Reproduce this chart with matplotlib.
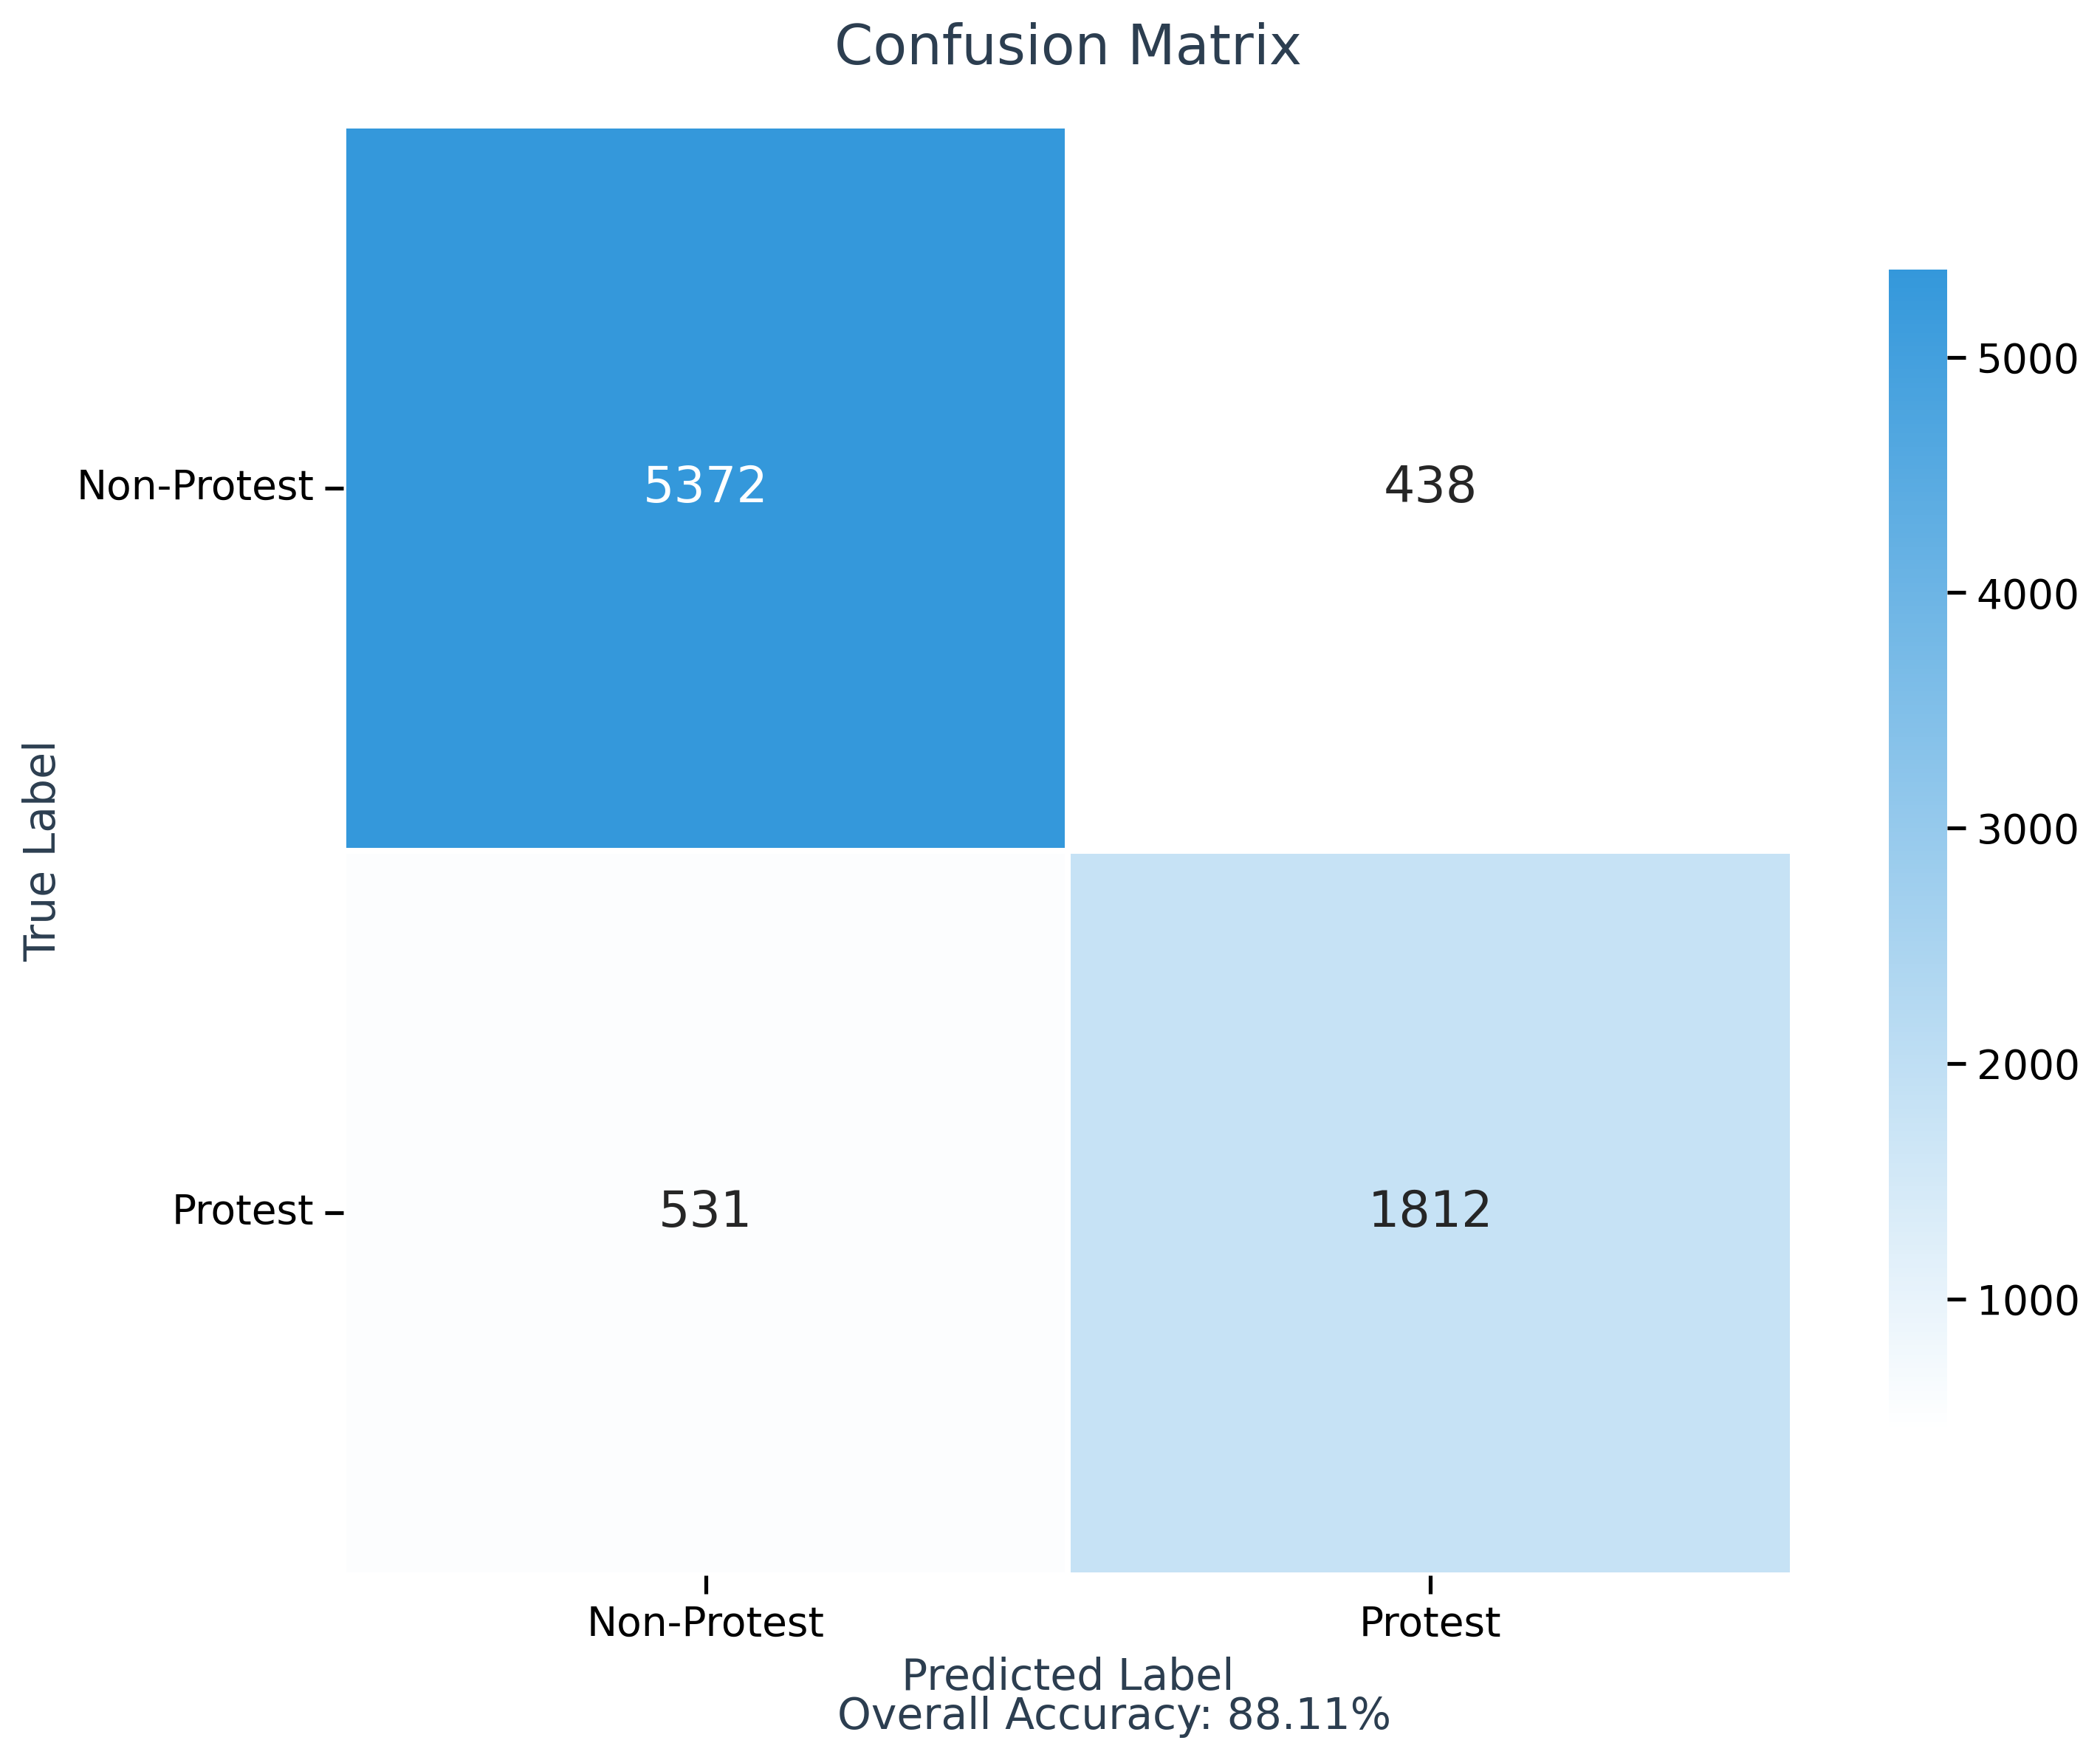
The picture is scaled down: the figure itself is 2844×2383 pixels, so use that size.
import numpy as np
import matplotlib
matplotlib.use("Agg")
import matplotlib.pyplot as plt
import seaborn as sns
from matplotlib.colors import LinearSegmentedColormap

# ---- data ----
class_labels = ["Non-Protest", "Protest"]
row_non_protest = [5372, 438]
row_protest = [531, 1812]
cbar_ticks = [1000, 2000, 3000, 4000, 5000]

cm = np.array([row_non_protest, row_protest])
accuracy = np.trace(cm) / cm.sum() * 100

plt.rcParams['font.family'] = ['DejaVu Sans']
W, H, DPI = 2845, 2383, 300
fig = plt.figure(figsize=(W / DPI, H / DPI), dpi=DPI)

ax = fig.add_axes([465 / W, 1 - 2133 / H, 1963 / W, 1963 / H])
cax = fig.add_axes([2558 / W, 1 - 1938 / H, 79 / W, 1573 / H])

cmap = LinearSegmentedColormap.from_list("wb", ["#ffffff", "#3498db"])

sns.heatmap(cm, ax=ax, cbar_ax=cax, cmap=cmap, annot=True, fmt="d",
            linewidths=1.5, linecolor="white",
            annot_kws={"fontsize": 16},
            xticklabels=class_labels, yticklabels=class_labels)

title_color = "#2c3e50"
ax.set_title("Confusion Matrix", fontsize=18, color=title_color, pad=20)
ax.set_ylabel("True Label", fontsize=14, color=title_color)
ax.set_xlabel("Predicted Label", fontsize=14, color=title_color)
fig.text(1509 / W, 1 - 2341 / H, f"Overall Accuracy: {accuracy:.2f}%",
         fontsize=14, color=title_color, ha="center", va="baseline")

ax.tick_params(axis="both", which="major", length=6, width=1.25,
               labelsize=13.2, colors="black", left=True, bottom=True)
plt.setp(ax.get_yticklabels(), rotation=0, va="center")
plt.setp(ax.get_xticklabels(), rotation=0)
for s in ax.spines.values():
    s.set_visible(False)

cax.set_yticks(cbar_ticks)
cax.tick_params(axis="y", which="major", length=6, width=1.25,
                labelsize=13.2, colors="black")
cax.tick_params(which="minor", length=0)
for s in cax.spines.values():
    s.set_visible(False)

fig.savefig("out.png", dpi=DPI, facecolor="white")
